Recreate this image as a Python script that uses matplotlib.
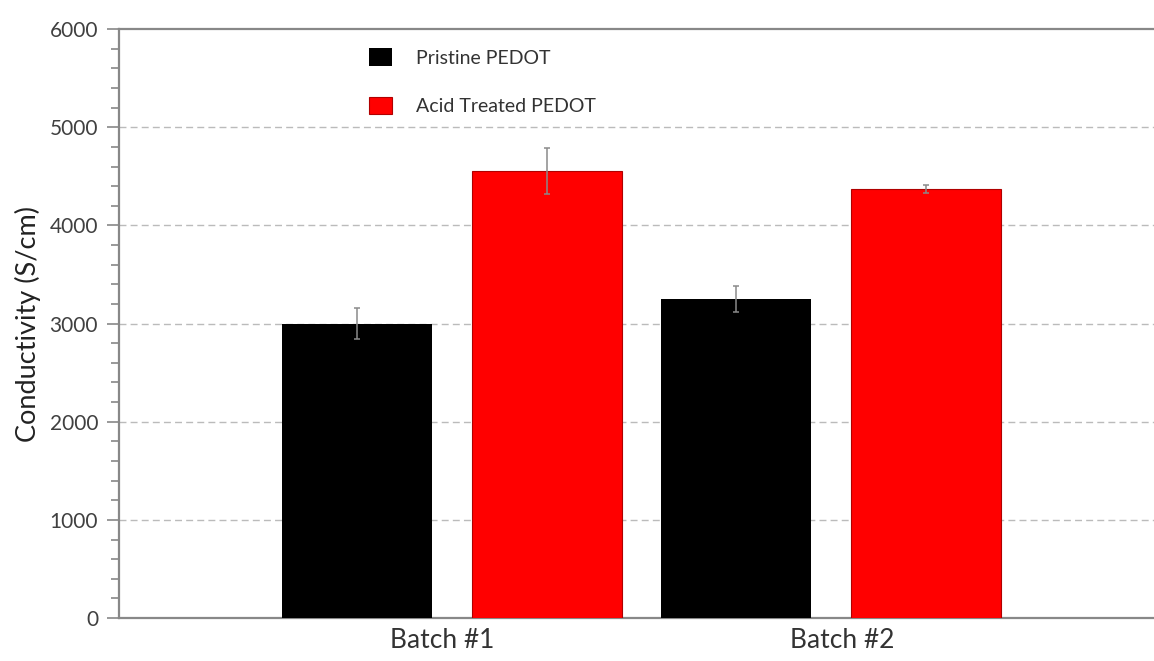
import numpy as np
import matplotlib
matplotlib.use("Agg")
import matplotlib.pyplot as plt
from matplotlib.ticker import MultipleLocator

plt.rcParams['font.family'] = ['Lato', 'DejaVu Sans']

batches = ["Batch #1", "Batch #2"]
series_names = ["Pristine PEDOT", "Acid Treated PEDOT"]
pristine = [3000, 3250]
pristine_err = [160, 130]
acid = [4550, 4370]
acid_err = [235, 40]

fig = plt.figure(figsize=(11.54, 6.61), dpi=100)
ax = fig.add_axes([0.1031, 0.065, 0.8969, 0.891])

x = np.arange(len(batches))
offset = 0.25
width = 0.396
ebar = dict(ecolor="#8a8a8a", elinewidth=1.1, capsize=2, capthick=1.1)

ax.bar(x - offset, pristine, width, yerr=pristine_err, color="black",
       label=series_names[0], error_kw=ebar, zorder=3)
ax.bar(x + offset, acid, width, yerr=acid_err, color="#ff0000",
       edgecolor="#b00000", linewidth=0.8, label=series_names[1],
       error_kw=ebar, zorder=3)

ax.set_xlim(-0.879, 1.852)
ax.set_ylim(0, 6000)
# category labels sit slightly apart from the bar-group centres
ax.set_xticks(x + np.array([-0.025, 0.03]))
ax.set_xticklabels(batches, fontsize=19, color="#333333")
ax.tick_params(axis="x", length=0, pad=7)

ax.yaxis.set_major_locator(MultipleLocator(1000))
ax.yaxis.set_minor_locator(MultipleLocator(200))
ax.tick_params(axis="y", which="major", length=9, width=1.2, color="#888888",
               labelsize=15, labelcolor="#404040", pad=6)
ax.tick_params(axis="y", which="minor", length=6, width=1.2, color="#888888")

ax.set_ylabel("Conductivity (S/cm)", fontsize=19.5, color="#222222", labelpad=6)

for y in range(1000, 6000, 1000):
    ax.axhline(y, color="#bbbbbb", linestyle=(0, (5, 3)), linewidth=1.0, zorder=1)

for side in ["left", "top", "bottom"]:
    ax.spines[side].set_color("#888888")
    ax.spines[side].set_linewidth(1.6)
ax.spines["right"].set_visible(False)

leg = ax.legend(loc="upper left", bbox_to_anchor=(0.225, 0.997), frameon=False,
                fontsize=14, handlelength=1.15, handleheight=1.0,
                labelspacing=1.55, handletextpad=1.25)
for t in leg.get_texts():
    t.set_color("#333333")

fig.savefig("out.png", dpi=100)
